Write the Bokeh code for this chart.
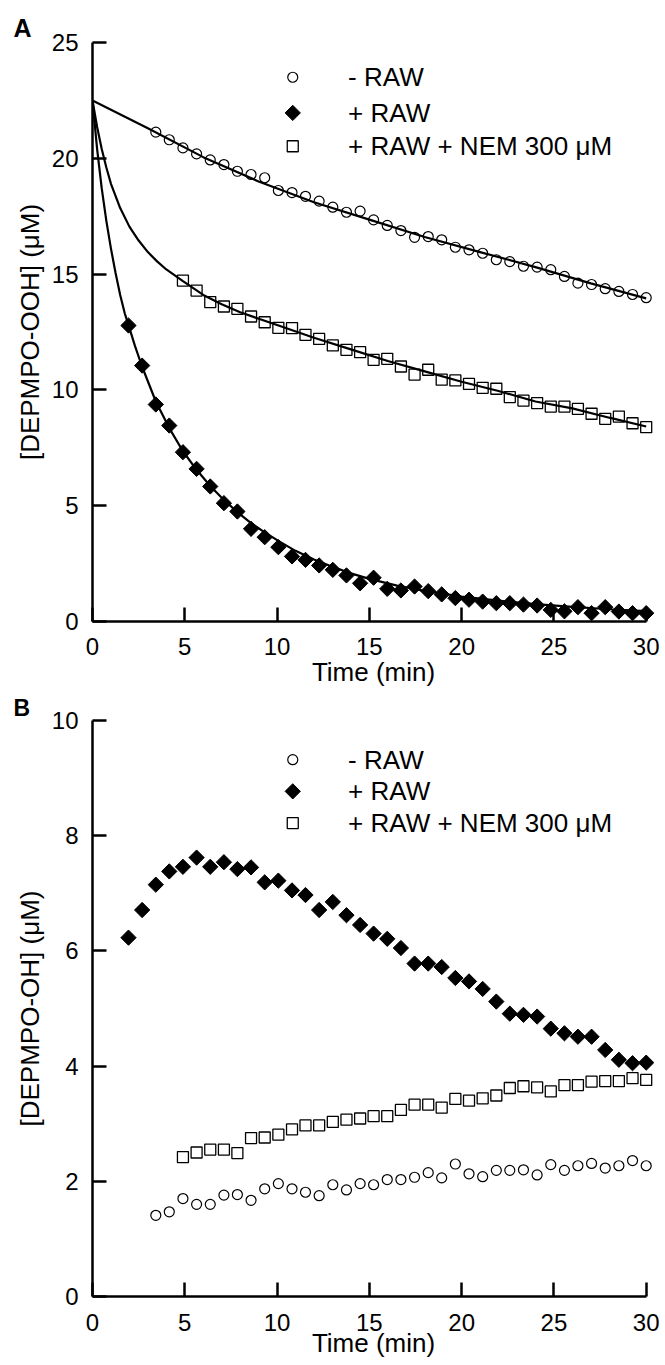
from bokeh.plotting import figure
from bokeh.models import Range1d, FixedTicker, ColumnDataSource
from bokeh.layouts import column
from bokeh.embed import file_html
from bokeh.resources import INLINE
from bokeh.core.properties import value

# ---------------- data ----------------
time_min = [1.95, 2.69, 3.43, 4.16, 4.90, 5.64, 6.38, 7.12, 7.85, 8.59, 9.33,
            10.07, 10.81, 11.54, 12.28, 13.02, 13.76, 14.50, 15.23, 15.97, 16.71,
            17.45, 18.19, 18.92, 19.66, 20.40, 21.14, 21.88, 22.61, 23.35, 24.09,
            24.83, 25.57, 26.30, 27.04, 27.78, 28.52, 29.26, 30.00]

# Panel A: [DEPMPO-OOH] (uM)
a_minus_raw = [21.13, 20.80, 20.45, 20.19, 19.93, 19.73, 19.44, 19.30, 19.16, 18.61,
               18.52, 18.36, 18.15, 17.89, 17.67, 17.72, 17.34, 17.10, 16.88, 16.59,
               16.62, 16.48, 16.16, 16.05, 15.90, 15.62, 15.54, 15.34, 15.30, 15.19,
               14.90, 14.61, 14.55, 14.37, 14.25, 14.12, 13.98]
a_plus_raw = [12.78, 11.05, 9.37, 8.46, 7.31, 6.59, 5.83, 5.11, 4.75, 4.00, 3.64,
              3.21, 2.81, 2.66, 2.42, 2.23, 1.99, 1.65, 1.89, 1.41, 1.34, 1.51, 1.31,
              1.17, 1.01, 0.94, 0.86, 0.79, 0.79, 0.73, 0.69, 0.50, 0.44, 0.62, 0.36,
              0.62, 0.43, 0.36, 0.36]
a_plus_raw_nem = [14.72, 14.29, 13.79, 13.60, 13.50, 13.17, 12.92, 12.68, 12.67, 12.38,
                  12.20, 11.92, 11.73, 11.63, 11.30, 11.34, 11.01, 10.66, 10.87, 10.44,
                  10.41, 10.26, 10.09, 10.05, 9.69, 9.54, 9.43, 9.28, 9.28, 9.18, 8.97,
                  8.75, 8.85, 8.56, 8.39]

# fitted curves
fit_minus_t = [0, 3, 6, 9, 12, 15, 18, 21, 24, 27, 30]
fit_minus_y = [22.5, 21.3, 20.05, 19.0, 18.1, 17.35, 16.6, 15.95, 15.3, 14.6, 13.95]
fit_plus_t = [0, 0.25, 0.5, 0.75, 1.0, 1.25, 1.5, 1.75, 1.95, 2.3, 2.69, 3.43, 4.16,
              4.9, 5.64, 6.38, 7.12, 7.85, 8.59, 9.33, 10.07, 11, 12, 13, 14, 15,
              16.5, 18, 20, 22, 24, 26, 28, 30]
fit_plus_y = [22.5, 20.4, 18.7, 17.3, 16.1, 15.05, 14.1, 13.3, 12.8, 11.9, 11.0, 9.5,
              8.35, 7.35, 6.55, 5.85, 5.25, 4.72, 4.25, 3.85, 3.48, 3.05, 2.68, 2.36,
              2.08, 1.84, 1.55, 1.32, 1.08, 0.9, 0.75, 0.63, 0.53, 0.45]
fit_nem_t = [0, 0.25, 0.5, 0.75, 1.0, 1.5, 2.0, 2.5, 3.0, 3.5, 4.0, 4.9, 6, 7, 8, 10,
             12, 14, 16, 18, 20, 22, 24, 26, 28, 30]
fit_nem_y = [22.5, 21.35, 20.4, 19.6, 18.9, 17.85, 17.05, 16.45, 15.95, 15.55, 15.2,
             14.7, 14.1, 13.7, 13.35, 12.8, 12.25, 11.75, 11.25, 10.8, 10.35, 9.95,
             9.5, 9.2, 8.8, 8.42]

# Panel B: [DEPMPO-OH] (uM)
b_minus_raw = [1.41, 1.47, 1.70, 1.60, 1.60, 1.76, 1.77, 1.67, 1.87, 1.96, 1.87, 1.81,
               1.75, 1.94, 1.85, 1.96, 1.94, 2.03, 2.03, 2.07, 2.15, 2.06, 2.30, 2.13,
               2.08, 2.19, 2.19, 2.20, 2.11, 2.29, 2.19, 2.27, 2.31, 2.23, 2.27, 2.36,
               2.27]
b_plus_raw = [6.23, 6.71, 7.15, 7.38, 7.46, 7.62, 7.46, 7.54, 7.42, 7.45, 7.19, 7.22,
              7.05, 6.97, 6.71, 6.85, 6.62, 6.45, 6.30, 6.21, 6.05, 5.78, 5.78, 5.72,
              5.53, 5.47, 5.34, 5.12, 4.91, 4.89, 4.86, 4.65, 4.57, 4.51, 4.51, 4.28,
              4.11, 4.05, 4.06]
b_plus_raw_nem = [2.42, 2.50, 2.55, 2.55, 2.49, 2.75, 2.76, 2.81, 2.90, 2.97, 2.97,
                  3.03, 3.07, 3.09, 3.13, 3.13, 3.24, 3.33, 3.33, 3.28, 3.43, 3.40,
                  3.44, 3.49, 3.62, 3.65, 3.63, 3.56, 3.67, 3.67, 3.73, 3.74, 3.74,
                  3.79, 3.76]

legend_labels = ["- RAW", "+ RAW", "+ RAW + NEM 300 \u03bcM"]
x_ticks = [0, 5, 10, 15, 20, 25, 30]
a_y_ticks = [0, 5, 10, 15, 20, 25]
b_y_ticks = [0, 2, 4, 6, 8, 10]

FONT = "Liberation Sans"
DIAMOND_ANGLE = 0.785398


def make_fig(height, top, bottom, y_end, yticks, ylabel, tick_standoff,
             xlab_standoff, panel, title_size, title_standoff):
    p = figure(width=665, height=height, output_backend="svg", toolbar_location=None,
               x_range=Range1d(0, 30.45), y_range=Range1d(0, y_end),
               min_border_left=92, min_border_right=11,
               min_border_top=top, min_border_bottom=bottom)
    p.outline_line_color = None
    p.grid.visible = False
    p.background_fill_color = "white"
    p.border_fill_color = "white"
    p.title.text = panel
    p.title.align = "left"
    p.title.offset = -79
    p.title.standoff = title_standoff
    p.title.text_font = FONT
    p.title.text_font_size = title_size
    p.title.text_font_style = "bold"
    p.title.text_color = "black"
    p.xaxis.ticker = FixedTicker(ticks=x_ticks)
    p.yaxis.ticker = FixedTicker(ticks=yticks)
    p.xaxis.bounds = (0, 30)
    p.yaxis.bounds = (0, y_end)
    for ax in (p.xaxis[0], p.yaxis[0]):
        ax.axis_line_width = 2.5
        ax.axis_line_color = "black"
        ax.major_tick_line_width = 2.5
        ax.major_tick_line_color = "black"
        ax.major_tick_in = 14
        ax.major_tick_out = 0
        ax.minor_tick_line_color = None
        ax.major_label_text_font = FONT
        ax.major_label_text_font_size = "24px"
        ax.major_label_text_color = "black"
        ax.axis_label_text_font = FONT
        ax.axis_label_text_font_size = "26px"
        ax.axis_label_text_font_style = "normal"
        ax.axis_label_text_color = "black"
    p.xaxis.axis_label = "Time (min)"
    p.xaxis.major_label_standoff = tick_standoff
    p.xaxis.axis_label_standoff = xlab_standoff
    p.yaxis.axis_label = ylabel
    p.yaxis.major_label_standoff = 14
    p.yaxis.axis_label_standoff = 4
    return p


def add_points(p, y_minus, y_plus, y_nem):
    p.scatter(time_min[2:], y_minus, marker="circle", size=10, fill_color=None,
              line_color="black", line_width=1.2)
    p.scatter(time_min, y_plus, marker="square", angle=DIAMOND_ANGLE, size=10.8,
              fill_color="black", line_color="black", line_width=1)
    p.scatter(time_min[4:], y_nem, marker="square", size=11, fill_color=None,
              line_color="black", line_width=1.3)


def add_legend(p, ys):
    xm = 10.85
    xt = 13.85
    p.scatter([xm], [ys[0]], marker="circle", size=10, fill_color=None,
              line_color="black", line_width=1.2)
    p.scatter([xm], [ys[1]], marker="square", angle=DIAMOND_ANGLE, size=10.8,
              fill_color="black", line_color="black")
    p.scatter([xm], [ys[2]], marker="square", size=11, fill_color=None,
              line_color="black", line_width=1.3)
    src = ColumnDataSource(dict(x=[xt] * 3, y=ys, t=legend_labels))
    p.text(x="x", y="y", text="t", source=src, text_font=value(FONT),
           text_font_size="26px", text_baseline="middle", text_align="left",
           text_color="black")


# ---------------- panel A ----------------
pa = make_fig(692, 42, 71, 25, a_y_ticks, "[DEPMPO-OOH] (\u03bcM)", 16, -1,
              "A", "25px", 2)
pa.line(fit_minus_t, fit_minus_y, line_color="black", line_width=2.2)
pa.line(fit_plus_t, fit_plus_y, line_color="black", line_width=2.2)
pa.line(fit_nem_t, fit_nem_y, line_color="black", line_width=2.2)
add_points(pa, a_minus_raw, a_plus_raw, a_plus_raw_nem)
add_legend(pa, [23.5, 21.96, 20.52])

# ---------------- panel B ----------------
pb = make_fig(671, 26, 67, 10, b_y_ticks, "[DEPMPO-OH] (\u03bcM)", 17, -6,
              "B", "23px", 0)
add_points(pb, b_minus_raw, b_plus_raw, b_plus_raw_nem)
add_legend(pb, [9.32, 8.77, 8.22])

layout = column(pa, pb, spacing=0)
open("out.html", "w").write(file_html(layout, INLINE))
